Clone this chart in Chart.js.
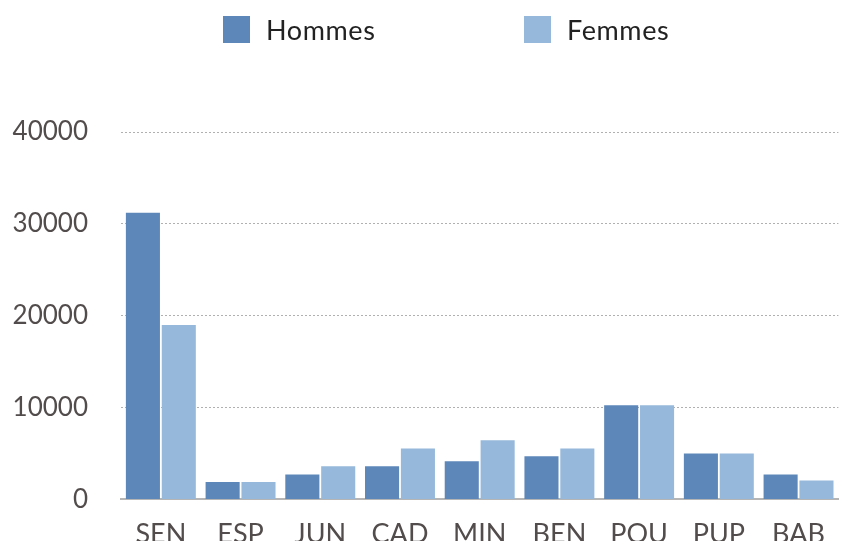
<!DOCTYPE html>
<html>
<head>
<meta charset="utf-8">
<script src="https://cdn.jsdelivr.net/npm/chart.js@4/dist/chart.umd.min.js"></script>
<style>
  html, body { margin: 0; padding: 0; background: #fff; overflow: hidden; }
  #wrap { position: relative; width: 844px; height: 541px; overflow: hidden; }
  #legend { position: absolute; top: 16px; left: 0; width: 841px; height: 28px; font-family: Lato, sans-serif; font-size: 27px; letter-spacing: 0.6px; color: #222; }
  .item { position: absolute; top: 0; height: 28px; line-height: 28px; white-space: nowrap; }
  .box { display: inline-block; width: 27px; height: 27px; vertical-align: top; margin-right: 16px; }
</style>
</head>
<body>
<div id="wrap">
  <canvas id="myChart" width="844" height="548"></canvas>
  <div id="legend"></div>
</div>
<script>
const categories = ['SEN', 'ESP', 'JUN', 'CAD', 'MIN', 'BEN', 'POU', 'PUP', 'BAB']
const hommes = [31200, 1900, 2700, 3600, 4150, 4700, 10250, 5000, 2700]
const femmes = [19000, 1900, 3600, 5550, 6450, 5550, 10250, 5000, 2050]
const seriesNames = ['Hommes', 'Femmes']
const seriesColors = ['#5e87b9', '#96b8db']
const yTicks = [0, 10000, 20000, 30000, 40000]

const textColor = '#524c4c'

// legend built by hand so spacing matches
const legendEle = document.getElementById('legend')
const legendLeft = [223, 524]
seriesNames.forEach((name, i) => {
  const item = document.createElement('div')
  item.className = 'item'
  item.style.left = legendLeft[i] + 'px'
  item.innerHTML = `<span class="box" style="background:${seriesColors[i]}"></span>${name}`
  legendEle.appendChild(item)
})

const chartEle = document.getElementById('myChart')

const chart = new Chart(chartEle, {
  type: 'bar',
  data: {
    labels: categories,
    datasets: [
      { label: seriesNames[0], data: hommes, backgroundColor: seriesColors[0] },
      { label: seriesNames[1], data: femmes, backgroundColor: seriesColors[1] }
    ]
  },
  options: {
    responsive: false,
    animation: false,
    barPercentage: 0.95,
    categoryPercentage: 0.9,
    layout: { autoPadding: false, padding: { top: 132, right: 0, bottom: 0, left: 0 } },
    plugins: {
      legend: { display: false },
      tooltip: { enabled: false }
    },
    scales: {
      x: {
        grid: { display: false, drawTicks: false },
        border: { display: true, color: '#b5b5b5', width: 2 },
        ticks: {
          color: textColor,
          padding: 19,
          font: { family: 'Lato', size: 27 }
        },
        afterFit: (scale) => { scale.height = 42 }
      },
      y: {
        min: 0,
        max: 40000,
        afterBuildTicks: (scale) => { scale.ticks = yTicks.map(v => ({ value: v })) },
        grid: { color: '#b0b0b0', lineWidth: 1, drawTicks: false },
        border: { display: false, dash: [2, 2] },
        ticks: {
          color: textColor,
          padding: 33,
          font: { family: 'Lato', size: 26 },
          callback: (v) => String(v)
        },
        afterFit: (scale) => { scale.width = 121 }
      }
    }
  }
})
</script>
</body>
</html>
